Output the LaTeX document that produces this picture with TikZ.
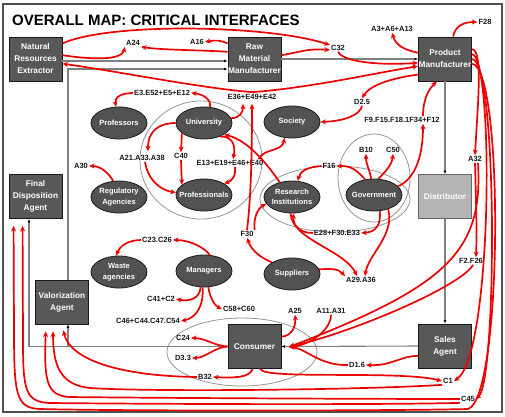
\documentclass[tikz,border=0pt]{standalone}
\usepackage{fontspec}
\setmainfont{Liberation Sans}
\usetikzlibrary{arrows.meta,shapes.geometric}
\definecolor{boxfill}{RGB}{88,88,88}
\definecolor{ellfill}{RGB}{82,82,82}
\definecolor{distfill}{RGB}{180,180,180}
\definecolor{arrred}{RGB}{236,0,0}
\definecolor{conngray}{RGB}{128,128,128}
\definecolor{ringgray}{RGB}{150,150,150}
\definecolor{framegray}{RGB}{80,80,80}
\begin{document}
\begin{tikzpicture}[x=1pt,y=-1pt,
  actor/.style={rectangle, draw=black!90, line width=0.9pt, fill=boxfill, text=white,
    font=\bfseries\fontsize{8.3}{12}\selectfont, align=center,
    minimum width=53pt, minimum height=44pt, inner sep=0pt},
  party/.style={ellipse, draw=black!90, line width=0.8pt, fill=ellfill, text=white,
    font=\bfseries\fontsize{7.5}{10.5}\selectfont, align=center,
    minimum width=56pt, minimum height=32pt, inner xsep=-8pt, inner ysep=-4pt},
  code/.style={font=\bfseries\fontsize{7.5}{9}\selectfont, text=black!90, inner sep=1pt},
  rarrow/.style={draw=arrred, line width=1.7pt, -{Stealth[length=5.5pt,width=5pt]}},
  garrow/.style={draw=conngray, line width=1.1pt, -{Latex[length=3.5pt,width=3pt,color=black]}},
  gline/.style={draw=conngray, line width=1.1pt},
  ring/.style={draw=ringgray, line width=0.8pt}
]
\useasboundingbox (0,0) rectangle (505,416);
\fill[white] (0,0) rectangle (505,416);
\draw[framegray, line width=1.2pt] (3,4) rectangle (502,412);

% grouping rings
\draw[ring] (201,160) ellipse [x radius=61, y radius=59];
\draw[ring] (335,199) ellipse [x radius=75, y radius=33];
\draw[ring] (374,178) ellipse [x radius=36, y radius=44];
\draw[ring] (242,352) ellipse [x radius=75, y radius=34];

% title
\node[anchor=base west, font=\bfseries\fontsize{15}{18}\selectfont, inner sep=0pt] (title) at (12,25) {OVERALL MAP: CRITICAL INTERFACES};

% actors
\node[actor] (nre) at (35.5,59) {Natural\\Resources\\Extractor};
\node[actor] (raw) at (254.5,59) {Raw\\Material\\Manufacturer};
\node[actor] (pm) at (445,59) {Product\\Manufacturer};
\node[actor, fill=distfill, draw=black!60] (dist) at (445,196.5) {Distributor};
\node[actor] (sales) at (445,346) {Sales\\Agent};
\node[actor] (fd) at (35.5,196.5) {Final\\Disposition\\Agent};
\node[actor] (val) at (62,302) {Valorization\\Agent};
\node[actor] (cons) at (254.5,346.5) {Consumer};

% parties
\node[party] (prof) at (119,123) {Professors};
\node[party] (univ) at (204,123) {University};
\node[party] (soc) at (292,122) {Society};
\node[party] (profl) at (204,195) {Professionals};
\node[party] (reg) at (119,197) {Regulatory\\Agencies};
\node[party] (ri) at (292,197) {Research\\Institutions};
\node[party] (gov) at (374,195) {Government};
\node[party] (waste) at (119,272) {Waste\\agencies};
\node[party] (mgr) at (204,271) {Managers};
\node[party] (sup) at (292,274) {Suppliers};

% interface codes
\node[code] (a24) at (133,43) {A24};
\node[code] (a16) at (197,42) {A16};
\node[code] (c32) at (338,48) {C32};
\node[code] (a3) at (392,29) {A3+A6+A13};
\node[code] (f28) at (485,22) {F28};
\node[code] (e3) at (162,93) {E3.E52+E5+E12};
\node[code] (e36) at (252,97) {E36+E49+E42};
\node[code] (d25) at (362,102) {D2.5};
\node[code] (f9) at (402,120) {F9.F15.F18.1F34+F12};
\node[code] (a21) at (142,158) {A21.A33.A38};
\node[code] (c40) at (181,156) {C40};
\node[code] (e13) at (230,163) {E13+E19+E46+E40};
\node[code] (a30) at (81,166) {A30};
\node[code] (f16) at (329,166) {F16};
\node[code] (b10) at (366,150) {B10};
\node[code] (c50) at (393,150) {C50};
\node[code] (a32) at (475,159) {A32};
\node[code] (e28) at (337,233) {E28+F30.E33};
\node[code] (f30) at (247,234) {F30};
\node[code] (c23) at (157,240) {C23.C26};
\node[code] (f2) at (471,261) {F2.F26};
\node[code] (a29) at (361,280) {A29.A36};
\node[code] (c41) at (161,299) {C41+C2};
\node[code] (c58) at (239,309) {C58+C60};
\node[code] (c46) at (148,321) {C46+C44.C47.C54};
\node[code] (a25) at (295,311) {A25};
\node[code] (a11) at (331,311) {A11.A31};
\node[code] (c24) at (183,338) {C24};
\node[code] (d33) at (183,358) {D3.3};
\node[code] (b32) at (205,377) {B32};
\node[code] (d16) at (357,365) {D1.6};
\node[code] (c1) at (448,381) {C1};
\node[code] (c45) at (468,399) {C45};

% gray flow connectors
\draw[garrow] ([yshift=-2pt]nre.east) -- ([yshift=-2pt]raw.west);
\draw[garrow] ([xshift=6pt]val.north) |- ([yshift=-10pt]raw.west);
\draw[garrow] (raw.east) -- (pm.west);
\draw[garrow] (pm.south) -- (dist.north);
\draw[garrow] (dist.south) -- (sales.north);
\draw[garrow] (sales.west) -- (cons.east);
\coordinate (jv) at (68,346.5);
\coordinate (jf) at (29,346.5);
\draw[gline] (cons.west) -- (jv) -- (jf);
\draw[garrow] (jf) -- (jf |- fd.south);
\draw[garrow] (jv) -- (jv |- val.south);

% red interface arrows: top
\draw[rarrow] (nre.30) .. controls (110,22) and (270,25) .. (c32.160);
\draw[rarrow] (nre.8) .. controls (95,60) and (122,60) .. (a24.south west);
\draw[rarrow] (raw.165) .. controls (200,50) and (160,50) .. (a24.south east);
\draw[rarrow] (raw.150) .. controls (220,40) and (215,40) .. (a16.east);
\draw[rarrow] (raw.8) .. controls (300,52) and (310,48) .. (c32.195);
\draw[rarrow] (c32.south) .. controls (345,64) and (390,65) .. (pm.188);
\draw[rarrow] (pm.167) .. controls (405,50) and (396,46) .. (a3.south);
\draw[rarrow] (pm.70) .. controls (455,27) and (462,22) .. (f28.west);
\draw[rarrow] (pm.210) .. controls (392,78) and (370,85) .. (d25.north);
\draw[rarrow] (d25.south) .. controls (360,115) and (345,121) .. (soc.east);
\draw[rarrow] (gov.20) .. controls (413,180) and (423,160) .. ([xshift=21pt]f9.south);
\draw[rarrow] ([xshift=21pt]f9.north) .. controls (423,100) and (428,90) .. (pm.250);
\draw[rarrow] ([yshift=1pt]e36.north) .. controls (200,88) and (110,70) .. (nre.350);
\draw[rarrow] ([yshift=1pt]e36.north) .. controls (310,88) and (380,72) .. (pm.195);

% university cluster
\draw[rarrow] (univ.70) .. controls (212,100) and (203,94) .. (e3.east);
\draw[rarrow] (e3.west) .. controls (122,93) and (114,97) .. (prof.100);
\draw[rarrow, shorten >=3pt] (univ.west) .. controls (160,123) and (148,130) .. ([xshift=6pt]a21.north);
\draw[rarrow] ([xshift=3pt]a21.south) .. controls (148,180) and (160,190) .. (profl.175);
\draw[rarrow] (univ.205) -- (c40.north);
\draw[rarrow] (c40.south) -- (profl.155);
\draw[rarrow] (univ.320) .. controls (232,136) and (236,145) .. ([xshift=3pt]e13.north);
\draw[rarrow] ([xshift=5pt]e13.south) .. controls (236,176) and (232,181) .. (profl.30);
\draw[rarrow] ([xshift=-6pt]e13.north east) .. controls (264,148) and (282,152) .. (soc.245);
\draw[rarrow] (ri.130) .. controls (268,165) and (248,140) .. (univ.330);
\draw[rarrow, shorten >=3pt] (univ.10) .. controls (240,118) and (243,112) .. ([xshift=-9pt]e36.south);
\draw[rarrow, shorten >=3pt] (f30.north) .. controls (252,190) and (252,130) .. (e36.south);
\draw[rarrow] (f30.north east) .. controls (253,218) and (258,208) .. (ri.195);
\draw[rarrow] (sup.150) .. controls (262,258) and (252,252) .. (f30.south);

% government / research cluster
\draw[rarrow] (sup.10) .. controls (330,269) and (338,268) .. (a29.north west);
\draw[rarrow] (ri.265) .. controls (292,240) and (345,250) .. ([xshift=-4pt]a29.north);
\draw[rarrow] (gov.315) .. controls (395,235) and (368,255) .. ([xshift=4pt]a29.north);
\draw[rarrow] (gov.290) .. controls (381,225) and (376,232) .. (e28.east);
\draw[rarrow] (e28.west) .. controls (300,233) and (293,226) .. (ri.275);
\draw[rarrow] (gov.120) .. controls (355,168) and (350,166) .. (f16.east);
\draw[rarrow] (f16.west) .. controls (306,167) and (300,172) .. (ri.70);
\draw[rarrow] (gov.100) .. controls (370,170) and (366,165) .. (b10.south);
\draw[rarrow] (gov.75) .. controls (385,172) and (392,165) .. (c50.south);
\draw[rarrow] (reg.110) .. controls (108,172) and (100,166) .. (a30.east);

% managers
\draw[rarrow] (mgr.70) .. controls (205,248) and (190,240) .. (c23.east);
\draw[rarrow] (c23.west) .. controls (128,240) and (120,246) .. (waste.100);
\draw[rarrow] (mgr.258) .. controls (200,298) and (190,302) .. (c41.east);
\draw[rarrow] (mgr.265) .. controls (204,306) and (196,318) .. (c46.east);
\draw[rarrow] (mgr.285) .. controls (210,298) and (215,306) .. (c58.west);

% consumer
\coordinate (consin) at (289,347);
\draw[rarrow] (cons.west) .. controls (215,346) and (205,338) .. (c24.east);
\draw[rarrow] (cons.west) .. controls (215,347) and (205,358) .. (d33.east);
\draw[rarrow] (cons.265) .. controls (250,378) and (232,378) .. (b32.east);
\draw[rarrow] (cons.285) .. controls (262,380) and (400,370) .. (c1.west);
\draw[rarrow] (cons.20) .. controls (292,336) and (296,326) .. (a25.south);
\draw[rarrow] (a11.south) .. controls (331,330) and (310,345) .. (consin);
\draw[rarrow] (sales.200) .. controls (400,356) and (392,366) .. (d16.east);
\draw[rarrow] (d16.west) .. controls (320,366) and (305,348) .. (consin);
\draw[rarrow] ([xshift=2pt]f2.south) .. controls (462,285) and (360,330) .. (consin);
\draw[rarrow] ([xshift=3pt]a32.south) .. controls (483,250) and (450,285) .. (consin);
\draw[rarrow] (a32.south) .. controls (476,200) and (477,230) .. ([xshift=5pt]f2.north);

% right bundle from product manufacturer
\draw[rarrow] (pm.20) .. controls (483,50) and (478,100) .. (a32.north);
\draw[rarrow] (pm.10) .. controls (494,55) and (493,355) .. (c1.east);
\draw[rarrow] (pm.0) .. controls (498,60) and (497,380) .. (c45.east);
\draw[rarrow, shorten >=7pt] (pm.350) .. controls (504,66) and (503,398) .. (468,409)
   .. controls (380,411) and (120,411) .. (40,409)
   .. controls (16,408) and (14,395) .. (14,330) -- ([xshift=5pt]fd.south west);

% bottom returns to disposal agents
\draw[rarrow, shorten >=7pt] (c45.south west) .. controls (380,405) and (150,404) .. (50,403)
   .. controls (25,402) and (23,390) .. (23,340) -- ([xshift=14pt]fd.south west);
\draw[rarrow, shorten >=7pt] (c45.west) .. controls (380,399) and (150,398) .. (70,397)
   .. controls (46,396) and (44,380) .. ([xshift=11pt]val.south west);
\draw[rarrow, shorten >=7pt] (c1.south west) .. controls (360,390) and (150,392) .. (90,388)
   .. controls (60,385) and (53,365) .. ([xshift=18pt]val.south west);
\draw[rarrow, shorten >=6pt] (b32.west) .. controls (120,376) and (70,360) .. ([xshift=27pt]val.south west);
\end{tikzpicture}
\end{document}
